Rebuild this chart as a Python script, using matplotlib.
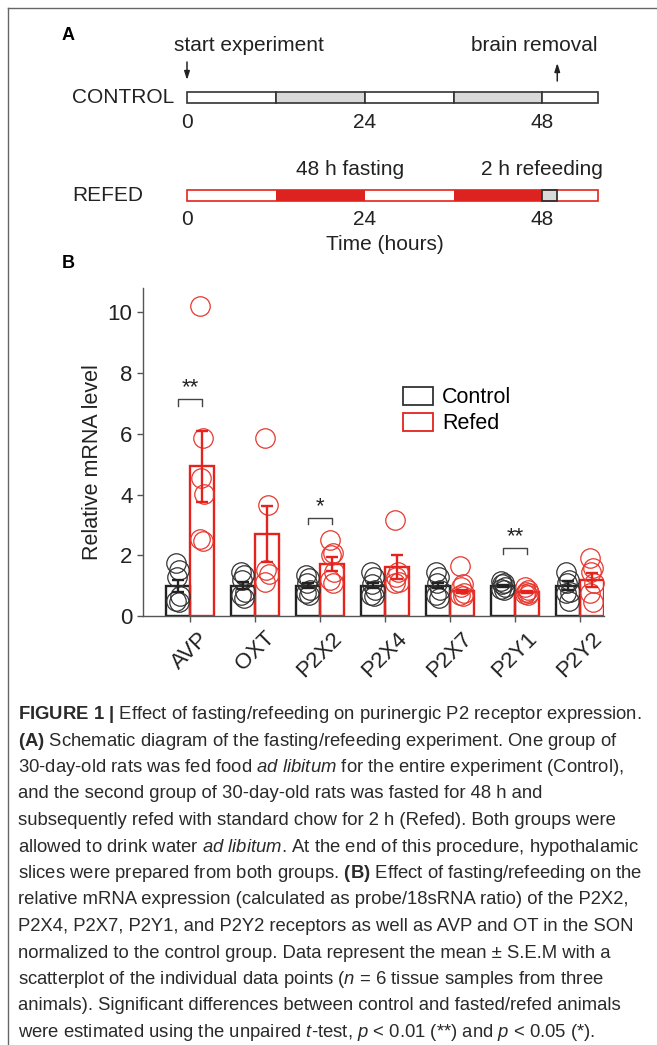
import matplotlib
matplotlib.use("Agg")
import matplotlib.pyplot as plt
from matplotlib import font_manager
from matplotlib.patches import Patch
from matplotlib.lines import Line2D
import numpy as np

# --- panel A: timeline (hours) ---
CONTROL_EDGES = [0, 12, 24, 36, 48, 55.5]
CONTROL_FILL = ["light", "dark", "light", "dark", "light"]
REFED_EDGES = [0, 12, 24, 36, 48, 50, 55.5]
REFED_FILL = ["light", "fast", "light", "fast", "refeed", "light"]
TIME_TICKS = [0, 24, 48]
START_H = 0
REMOVAL_H = 50

# --- panel B: relative mRNA level ---
CATEGORIES = ["AVP", "OXT", "P2X2", "P2X4", "P2X7", "P2Y1", "P2Y2"]
CTRL_MEAN = [1.0, 1.0, 1.0, 1.0, 1.0, 1.0, 1.0]
CTRL_SEM = [0.20, 0.12, 0.09, 0.08, 0.08, 0.03, 0.15]
REFED_MEAN = [4.93, 2.70, 1.71, 1.61, 0.82, 0.78, 1.19]
REFED_SEM = [1.17, 0.92, 0.22, 0.39, 0.05, 0.03, 0.22]

CTRL_POINTS = [
    [1.75, 1.5, 1.3, 0.65, 0.5, 0.45],
    [1.45, 1.35, 1.2, 0.8, 0.7, 0.6],
    [1.35, 1.25, 1.1, 0.85, 0.75, 0.7],
    [1.45, 1.3, 1.05, 0.85, 0.7, 0.65],
    [1.45, 1.3, 1.1, 0.85, 0.7, 0.6],
    [1.15, 1.1, 1.05, 0.95, 0.9, 0.85],
    [1.45, 1.2, 1.1, 0.8, 0.75, 0.48],
]
REFED_POINTS = [
    [10.2, 5.86, 4.54, 4.03, 2.54, 2.47],
    [5.86, 3.66, 1.5, 1.39, 1.13],
    [2.49, 2.09, 2.01, 1.46, 1.19, 1.08],
    [3.15, 1.46, 1.3, 1.13, 1.08],
    [1.65, 1.05, 0.95, 0.75, 0.7, 0.65],
    [0.97, 0.85, 0.8, 0.75, 0.72, 0.7],
    [1.9, 1.57, 1.46, 1.08, 0.76, 0.45],
]

SIG_CATS = [0, 2, 5]
SIG_LABELS = ["**", "*", "**"]
SIG_Y = [7.13, 3.22, 2.23]

CAPTION = [
    r"$\mathbf{FIGURE\ 1\ |}$ Effect of fasting/refeeding on purinergic P2 receptor expression.",
    r"$\mathbf{(A)}$ Schematic diagram of the fasting/refeeding experiment. One group of",
    r"30-day-old rats was fed food $\mathit{ad\ libitum}$ for the entire experiment (Control),",
    "and the second group of 30-day-old rats was fasted for 48 h and",
    "subsequently refed with standard chow for 2 h (Refed). Both groups were",
    r"allowed to drink water $\mathit{ad\ libitum}$. At the end of this procedure, hypothalamic",
    r"slices were prepared from both groups. $\mathbf{(B)}$ Effect of fasting/refeeding on the",
    "relative mRNA expression (calculated as probe/18sRNA ratio) of the P2X2,",
    "P2X4, P2X7, P2Y1, and P2Y2 receptors as well as AVP and OT in the SON",
    "normalized to the control group. Data represent the mean \u00b1 S.E.M with a",
    r"scatterplot of the individual data points ($\mathit{n}$ = 6 tissue samples from three",
    "animals). Significant differences between control and fasted/refed animals",
    r"were estimated using the unpaired $\mathit{t}$-test, $\mathit{p}$ < 0.01 (**) and $\mathit{p}$ < 0.05 (*).",
]

BLACK = "#222222"
RED = "#e4231d"
TXT = "#222222"

plt.rcParams["font.family"] = ["Liberation Sans", "DejaVu Sans"]

avail = {f.name for f in font_manager.fontManager.ttflist}
cap_font = "Liberation Sans Narrow" if "Liberation Sans Narrow" in avail else "Liberation Sans"
plt.rcParams["mathtext.fontset"] = "custom"
plt.rcParams["mathtext.rm"] = cap_font
plt.rcParams["mathtext.it"] = cap_font + ":italic"
plt.rcParams["mathtext.bf"] = cap_font + ":bold"

W, H = 657, 1045
fig = plt.figure(figsize=(W / 100, H / 100), dpi=100)


def fx(px):
    return px / W


def fy(py):
    return 1 - py / H


# frame (only top/left visible in the crop)
fig.add_artist(Line2D([fx(8), 1.0], [fy(8), fy(8)], color="#666666", lw=1.0))
fig.add_artist(Line2D([fx(8), fx(8)], [fy(8), 0.0], color="#666666", lw=1.0))

# ================= Panel A =================
ax_a = fig.add_axes([fx(187), fy(262), fx(598) - fx(187), (262 - 20) / H])
ax_a.set_xlim(0, 55.5)
ax_a.set_ylim(262, 20)
ax_a.axis("off")

fill_colors = {"light": "white", "dark": "#d9d9d9", "fast": "#dc231f", "refeed": "#d9d9d9"}

ctrl_y, ref_y, bar_h = 97.5, 195.5, 11
for i, kind in enumerate(CONTROL_FILL):
    left, right = CONTROL_EDGES[i], CONTROL_EDGES[i + 1]
    ax_a.barh(ctrl_y, right - left, left=left, height=bar_h, color=fill_colors[kind],
              edgecolor="#333333", linewidth=1.2, clip_on=False)

for i, kind in enumerate(REFED_FILL):
    left, right = REFED_EDGES[i], REFED_EDGES[i + 1]
    ax_a.barh(ref_y, right - left, left=left, height=bar_h, color=fill_colors[kind],
              edgecolor="none", linewidth=0, clip_on=False)
ax_a.barh(ref_y, REFED_EDGES[-1] - REFED_EDGES[0], left=REFED_EDGES[0], height=bar_h,
          color="none", edgecolor=RED, linewidth=1.2, clip_on=False)
k = REFED_FILL.index("refeed")
ax_a.barh(ref_y, REFED_EDGES[k + 1] - REFED_EDGES[k], left=REFED_EDGES[k], height=bar_h,
          color="none", edgecolor="#333333", linewidth=1.3, clip_on=False)

for t in TIME_TICKS:
    ax_a.text(t, 123, str(t), ha="center", va="center", fontsize=15, color=TXT)
    ax_a.text(t, 220, str(t), ha="center", va="center", fontsize=15, color=TXT)

ax_a.text(-1.8, 46, "start experiment", ha="left", va="center", fontsize=15, color=TXT)
ax_a.text(55.4, 46, "brain removal", ha="right", va="center", fontsize=15, color=TXT)
ax_a.text(22, 170, "48 h fasting", ha="center", va="center", fontsize=15, color=TXT)
ax_a.text(56.2, 170, "2 h refeeding", ha="right", va="center", fontsize=15, color=TXT)
ax_a.text(26.7, 245, "Time (hours)", ha="center", va="center", fontsize=15, color=TXT)

arrow_kw = dict(arrowstyle="-|>,head_width=0.16,head_length=0.5", color=TXT, lw=1.1,
                shrinkA=0, shrinkB=0)
ax_a.annotate("", xy=(START_H, 80), xytext=(START_H, 62), arrowprops=arrow_kw,
              annotation_clip=False)
ax_a.annotate("", xy=(REMOVAL_H, 63), xytext=(REMOVAL_H, 81), arrowprops=arrow_kw,
              annotation_clip=False)

fig.text(fx(72), fy(97.5), "CONTROL", ha="left", va="center", fontsize=15, color=TXT)
fig.text(fx(72), fy(195.5), "REFED", ha="left", va="center", fontsize=15, color=TXT)
fig.text(fx(62), fy(35), "A", ha="left", va="center", fontsize=13, fontweight="bold", color="black")
fig.text(fx(62), fy(263), "B", ha="left", va="center", fontsize=13, fontweight="bold", color="black")

# ================= Panel B =================
ax_b = fig.add_axes([fx(143), fy(616), fx(604) - fx(143), (616 - 288) / H])
x = np.arange(len(CATEGORIES))
bw = 0.37
jitter = [-0.03, 0.02, -0.015, 0.03, -0.025, 0.01]

ax_b.bar(x - bw / 2, CTRL_MEAN, width=bw, facecolor="none", edgecolor=BLACK, linewidth=1.7, zorder=2)
ax_b.bar(x + bw / 2, REFED_MEAN, width=bw, facecolor="none", edgecolor=RED, linewidth=1.7, zorder=2)

for i in range(len(CATEGORIES)):
    pc = CTRL_POINTS[i]
    ax_b.plot(x[i] - bw / 2 + np.array(jitter[:len(pc)]), pc, "o", ms=14, mfc="none",
              mec="#333333", mew=0.9, zorder=3, clip_on=False)
    pr = REFED_POINTS[i]
    ax_b.plot(x[i] + bw / 2 + np.array(jitter[:len(pr)]), pr, "o", ms=14, mfc="none",
              mec="#e8372e", mew=0.9, zorder=3, clip_on=False)

ax_b.errorbar(x - bw / 2, CTRL_MEAN, yerr=CTRL_SEM, fmt="none", ecolor=BLACK,
              elinewidth=1.7, capsize=4, capthick=1.7, zorder=4)
ax_b.errorbar(x + bw / 2, REFED_MEAN, yerr=REFED_SEM, fmt="none", ecolor=RED,
              elinewidth=1.7, capsize=4, capthick=1.7, zorder=4)

for c, lab, y in zip(SIG_CATS, SIG_LABELS, SIG_Y):
    x0, x1 = c - bw / 2, c + bw / 2
    ax_b.plot([x0, x0, x1, x1], [y - 0.2, y, y, y - 0.2], color="#444444", lw=1.0, zorder=4)
    ax_b.text(c, y + 0.05, lab, ha="center", va="bottom", fontsize=16, color=TXT)

ax_b.set_xlim(-0.723, 6.37)
ax_b.set_ylim(0, 10.8)
ax_b.set_yticks([0, 2, 4, 6, 8, 10])
ax_b.set_xticks(x)
ax_b.set_xticklabels(CATEGORIES, rotation=45, ha="center")
ax_b.tick_params(axis="both", direction="out", length=4.5, width=1.0, color="#555555",
                 labelsize=16, labelcolor=TXT)
ax_b.tick_params(axis="x", pad=4)
ax_b.tick_params(axis="y", pad=3)
for s in ["top", "right"]:
    ax_b.spines[s].set_visible(False)
for s in ["left", "bottom"]:
    ax_b.spines[s].set_color("#555555")
    ax_b.spines[s].set_linewidth(1.0)

ax_b.set_ylabel("Relative mRNA level", fontsize=15.5, color=TXT)
ax_b.yaxis.set_label_coords((103 - 143) / 461, 0.47)

handles = [Patch(facecolor="white", edgecolor="#333333", linewidth=1.3, label="Control"),
           Patch(facecolor="white", edgecolor=RED, linewidth=1.3, label="Refed")]
ax_b.legend(handles=handles, loc="upper left", bbox_to_anchor=((403 - 143) / 461, (616 - 387) / 328),
            frameon=False, fontsize=15.5, handlelength=1.4, handleheight=0.9, handletextpad=0.4,
            labelspacing=0.2, borderpad=0, borderaxespad=0)

# ================= Caption =================
renderer = fig.canvas.get_renderer()
cap_size = 13.5
cap_texts = []
for i, line in enumerate(CAPTION):
    t = fig.text(fx(18), fy(719 + 26.5 * i), line, ha="left", va="baseline",
                 fontsize=cap_size, family=cap_font, color="#2a2a2a")
    cap_texts.append(t)
w0 = cap_texts[0].get_window_extent(renderer).width
scale = (641 - 18) / w0
for t in cap_texts:
    t.set_fontsize(cap_size * scale)

fig.savefig("out.png", dpi=100)
